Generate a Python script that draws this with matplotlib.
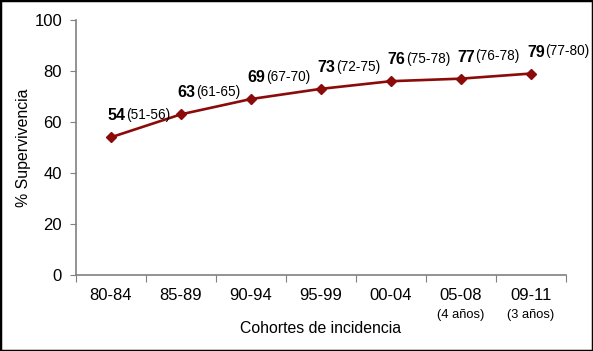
import matplotlib.pyplot as plt
from matplotlib.patches import Rectangle
from matplotlib.transforms import blended_transform_factory

plt.rcParams['font.family'] = ['Liberation Sans', 'DejaVu Sans']

cohorts = ['80-84', '85-89', '90-94', '95-99', '00-04', '05-08', '09-11']
sublabels = ['', '', '', '', '', '(4 años)', '(3 años)']
survival = [54, 63, 69, 73, 76, 77, 79]
ci_text = ['(51-56)', '(61-65)', '(67-70)', '(72-75)', '(75-78)', '(76-78)', '(77-80)']

fig = plt.figure(figsize=(5.93, 3.51), dpi=100)
ax = fig.add_axes([0.128, 0.2165, 0.826, 0.7265])

x = list(range(len(cohorts)))
ax.plot(x, survival, color='#8B0A0A', lw=1.9, marker='D', markersize=5,
        markeredgecolor='#8B0A0A', zorder=3)

for xi, v, ci in zip(x, survival, ci_text):
    t = ax.annotate(str(v), xy=(xi, v), xytext=(-3, 14), textcoords='offset pixels',
                    fontsize=11.5, fontweight='bold', ha='left', va='bottom')
    ax.annotate(ci, xy=(1, 0.08), xycoords=t, xytext=(0, 0), textcoords='offset pixels',
                fontsize=9.8, ha='left', va='bottom')

ax.set_xlim(-0.5, len(cohorts) - 0.5)
ax.set_ylim(0, 100)
ax.set_yticks([0, 20, 40, 60, 80, 100])
ax.tick_params(axis='y', labelsize=12, length=4, color='#808080', direction='out', pad=6)

# boundary ticks, centered labels
ax.set_xticks([i - 0.5 for i in range(len(cohorts) + 1)])
ax.set_xticklabels([])
ax.tick_params(axis='x', which='major', length=5, color='#808080', direction='out')
ax.set_xticks(x, minor=True)
ax.set_xticklabels(cohorts, minor=True)
ax.tick_params(axis='x', which='minor', length=0, labelsize=12, pad=9)

trans = blended_transform_factory(ax.transData, ax.transAxes)
for xi, s in zip(x, sublabels):
    if s:
        ax.text(xi, -0.135, s, transform=trans, ha='center', va='top', fontsize=9.3)

for side in ['top', 'right']:
    ax.spines[side].set_visible(False)
for side in ['left', 'bottom']:
    ax.spines[side].set_color('#808080')
    ax.spines[side].set_linewidth(1.2)

ax.set_xlabel('Cohortes de incidencia', fontsize=11.4, labelpad=13)
ax.set_ylabel('% Supervivencia', fontsize=11.4, labelpad=2)

fig.patches.append(Rectangle((0, 0), 1, 1, transform=fig.transFigure, fill=False,
                             edgecolor='black', lw=2.5))

fig.savefig('out.png', dpi=100)
